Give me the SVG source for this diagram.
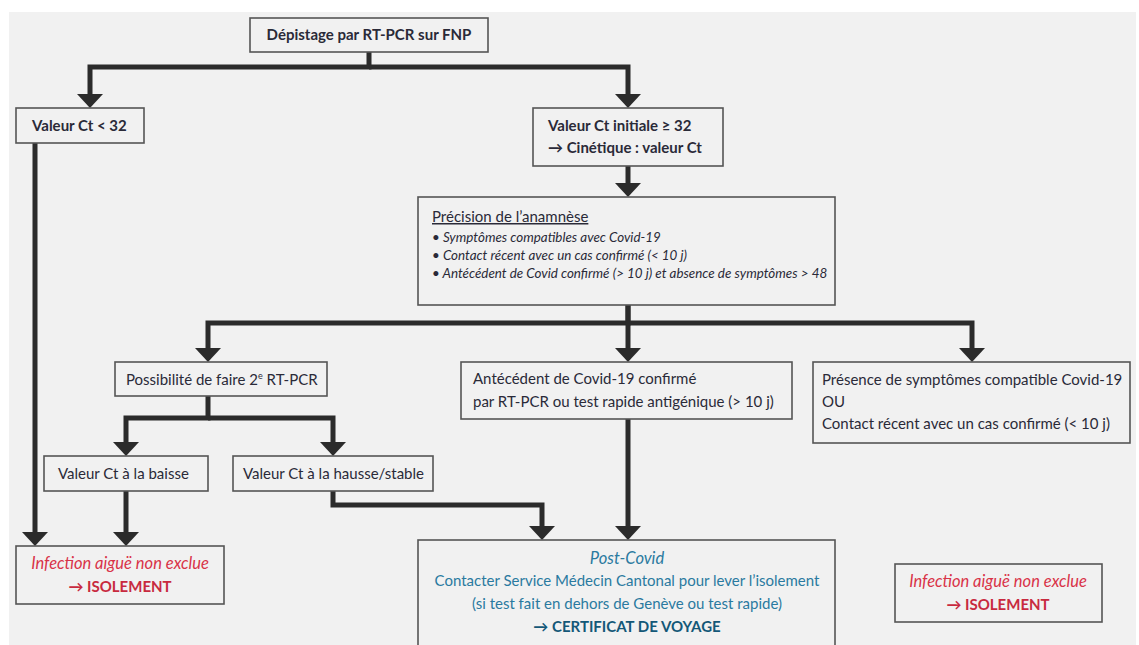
<svg xmlns="http://www.w3.org/2000/svg" width="1139" height="645" viewBox="0 0 1139 645">
<defs>
<marker id="ah" viewBox="0 0 14 26" refX="0" refY="13" markerWidth="14" markerHeight="26" markerUnits="userSpaceOnUse" orient="auto">
<path d="M0,0 L14,13 L0,26 z" fill="#2b2b2b"/>
</marker>
<style>
.box{fill:#f1f1f1;stroke:#555;stroke-width:1.6}
.t{font-family:Lato,'DejaVu Sans',sans-serif;font-size:15px;fill:#2a2a38}
.b{font-weight:bold}
.i{font-style:italic}
.s{font-size:13.4px}
.ri{font-size:16.5px}
.red{fill:#d93348}
.redb{fill:#c82a3f;font-weight:bold}
.blue{fill:#2a7aa0}
.blueb{fill:#145878;font-weight:bold}
.c{fill:none;stroke:#2b2b2b;stroke-width:5;stroke-linejoin:miter}
.m{text-anchor:middle}
</style>
</defs>
<rect x="0" y="0" width="1139" height="645" fill="#ffffff"/>
<rect x="9" y="12" width="1127" height="633" fill="#f1f1f1"/>

<g id="connectors">
<path class="c" d="M369,52 V67 H90 V94" marker-end="url(#ah)"/>
<path class="c" d="M369,67 H628 V94" marker-end="url(#ah)"/>
<path class="c" d="M628,166 V183" marker-end="url(#ah)"/>
<path class="c" d="M628,305 V323 H208 V348" marker-end="url(#ah)"/>
<path class="c" d="M628,305 V348" marker-end="url(#ah)"/>
<path class="c" d="M628,323 H972 V348" marker-end="url(#ah)"/>
<path class="c" d="M208,396 V418 H126 V442" marker-end="url(#ah)"/>
<path class="c" d="M208,418 H333 V442" marker-end="url(#ah)"/>
<path class="c" d="M35,143 V532" marker-end="url(#ah)"/>
<path class="c" d="M126,491 V532" marker-end="url(#ah)"/>
<path class="c" d="M333,491 V505 H542 V526" marker-end="url(#ah)"/>
<path class="c" d="M628,419 V526" marker-end="url(#ah)"/>
</g>

<g id="n-depistage">
<rect class="box" x="250" y="18" width="238" height="34"/>
<text class="t b m" x="369" y="40">Dépistage par RT-PCR sur FNP</text>
</g>

<g id="n-ct-inf32">
<rect class="box" x="16" y="108" width="128" height="35"/>
<text class="t b" x="32" y="131">Valeur Ct &lt; 32</text>
</g>

<g id="n-ct-sup32">
<rect class="box" x="533" y="108" width="190" height="58"/>
<text class="t b" x="548" y="131">Valeur Ct initiale ≥ 32</text>
<text class="t b" x="548" y="153">→ Cinétique : valeur Ct</text>
</g>

<g id="n-precision">
<rect class="box" x="418" y="197" width="417" height="108"/>
<text class="t" x="432" y="222" text-decoration="underline">Précision de l’anamnèse</text>
<text class="t i s" x="432" y="242">• Symptômes compatibles avec Covid-19</text>
<text class="t i s" x="432" y="260">• Contact récent avec un cas confirmé (&lt; 10 j)</text>
<text class="t i s" x="432" y="278">• Antécédent de Covid confirmé (&gt; 10 j) et absence de symptômes &gt; 48</text>
</g>

<g id="n-possibilite">
<rect class="box" x="115" y="362" width="212" height="34"/>
<text class="t" x="126" y="385">Possibilité de faire 2<tspan font-size="9" dy="-6">e</tspan><tspan dy="6"> RT-PCR</tspan></text>
</g>

<g id="n-antecedent">
<rect class="box" x="461" y="362" width="331" height="57"/>
<text class="t" x="473" y="384">Antécédent de Covid-19 confirmé</text>
<text class="t" x="473" y="407">par RT-PCR ou test rapide antigénique (&gt; 10 j)</text>
</g>

<g id="n-presence">
<rect class="box" x="813" y="362" width="317" height="81"/>
<text class="t" x="822" y="385">Présence de symptômes compatible Covid-19</text>
<text class="t" x="822" y="407">OU</text>
<text class="t" x="822" y="429">Contact récent avec un cas confirmé (&lt; 10 j)</text>
</g>

<g id="n-baisse">
<rect class="box" x="44" y="456" width="164" height="35"/>
<text class="t" x="58" y="479">Valeur Ct à la baisse</text>
</g>

<g id="n-hausse">
<rect class="box" x="233" y="456" width="200" height="35"/>
<text class="t" x="243" y="479">Valeur Ct à la hausse/stable</text>
</g>

<g id="n-isolement-left">
<rect class="box" x="16" y="546" width="208" height="58"/>
<text class="t i ri red m" x="120" y="569">Infection aiguë non exclue</text>
<text class="t redb m" x="120" y="592">→ ISOLEMENT</text>
</g>

<g id="n-postcovid">
<rect class="box" x="418" y="540" width="417" height="115"/>
<text class="t i ri blue m" x="627" y="564">Post-Covid</text>
<text class="t blue m" x="627" y="586">Contacter Service Médecin Cantonal pour lever l’isolement</text>
<text class="t blue m" x="627" y="609">(si test fait en dehors de Genève ou test rapide)</text>
<text class="t blueb m" x="627" y="632">→ CERTIFICAT DE VOYAGE</text>
</g>

<g id="n-isolement-right">
<rect class="box" x="895" y="564" width="207" height="58"/>
<text class="t i ri red m" x="998" y="587">Infection aiguë non exclue</text>
<text class="t redb m" x="998" y="610">→ ISOLEMENT</text>
</g>
</svg>
